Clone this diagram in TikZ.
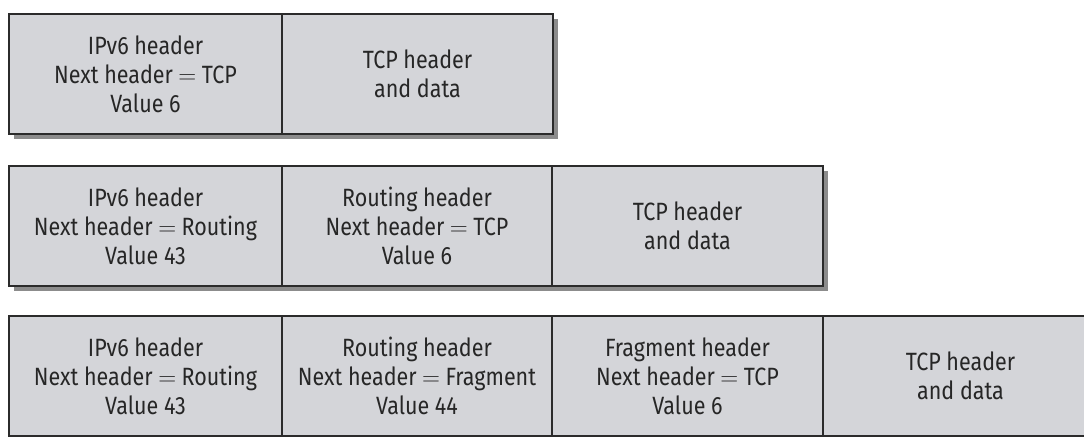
\documentclass[tikz,border=0pt]{standalone}
\usepackage{fontspec}
\setmainfont[FakeStretch=0.86]{Fira Sans}
\definecolor{cellfill}{HTML}{D4D5D9}
\definecolor{cellline}{HTML}{2B2B2B}
\definecolor{celltext}{HTML}{262626}
\definecolor{shade}{HTML}{8C8C8C}
\newcommand{\eqsign}{\hspace{0.22em}$=$\hspace{0.22em}}
\begin{document}
\begin{tikzpicture}[x=1pt,y=-1pt,
  cell/.style={rectangle, anchor=north west, inner sep=0pt, fill=cellfill,
    draw=cellline, line width=2pt, minimum height=120pt, text=celltext,
    align=center, font=\fontsize{25}{29}\selectfont},
  dropshade/.style={fill=shade}]
\useasboundingbox (0,0) rectangle (1084,437);
\fill[white] (0,0) rectangle (1084,437);
\clip (0,0) rectangle (1084,437);

% shadows of the first two packets
\fill[dropshade] (14,19) rectangle (558,139);
\fill[dropshade] (14,171) rectangle (828,291);

% packet 1: IPv6 + TCP
\node[cell, minimum width=273pt] (a1) at (8,13)
  {IPv6 header\\Next header\eqsign TCP\\Value 6};
\node[cell, minimum width=271pt] (a2) at (281,13)
  {TCP header\\and data};

% packet 2: IPv6 + Routing + TCP
\node[cell, minimum width=273pt] (b1) at (8,165)
  {IPv6 header\\Next header\eqsign Routing\\Value 43};
\node[cell, minimum width=270pt] (b2) at (281,165)
  {Routing header\\Next header\eqsign TCP\\Value 6};
\node[cell, minimum width=271pt] (b3) at (551,165)
  {TCP header\\and data};

% packet 3: IPv6 + Routing + Fragment + TCP
\node[cell, minimum width=273pt] (c1) at (8,315)
  {IPv6 header\\Next header\eqsign Routing\\Value 43};
\node[cell, minimum width=270pt] (c2) at (281,315)
  {Routing header\\Next header\eqsign Fragment\\Value 44};
\node[cell, minimum width=271pt] (c3) at (551,315)
  {Fragment header\\Next header\eqsign TCP\\Value 6};
\node[cell, minimum width=275pt] (c4) at (822,315)
  {TCP header\\and data};
\end{tikzpicture}
\end{document}
